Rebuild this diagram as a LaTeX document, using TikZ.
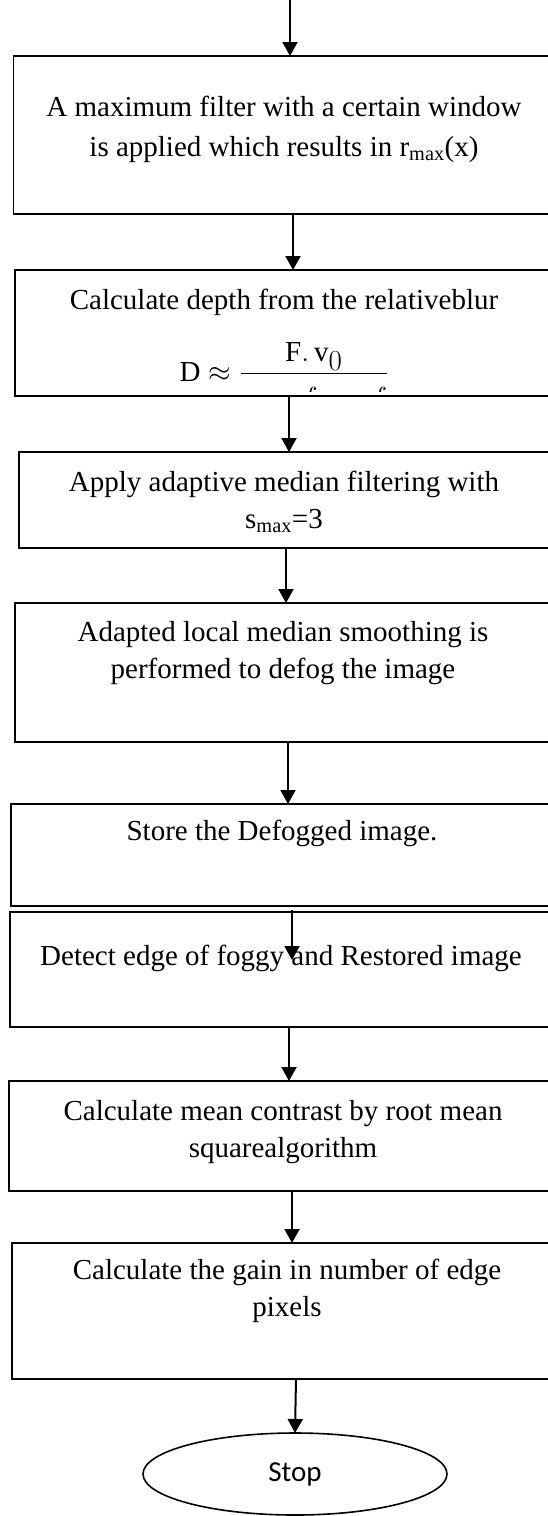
\RequirePackage{fix-cm}
\documentclass[tikz,border=0pt]{standalone}
\usepackage{amsmath}
\usepackage{fontspec}
\setmainfont{Liberation Serif}
\newfontfamily\stopfont{Carlito}
\usetikzlibrary{arrows.meta,shapes.geometric}

\begin{document}
\begin{tikzpicture}[x=1pt,y=-1pt,
  box/.style={draw,line width=1.6pt,anchor=north west,inner sep=0pt,outer sep=0pt},
  txt/.style={align=center,inner sep=0pt,font=\fontsize{29}{37}\selectfont},
  arr/.style={line width=2pt,-{Triangle[length=14pt,width=15pt]}},
  term/.style={draw,ellipse,line width=1.6pt,inner sep=0pt,outer sep=0pt,
    minimum width=304pt,minimum height=82pt,font=\stopfont\fontsize{29}{34}\selectfont}
  ]
\useasboundingbox (0,0) rectangle (548,1516);
\clip (0,0) rectangle (548,1516);

% process boxes (their right sides run past the page edge)
\node[box,minimum width=586.4pt,minimum height=158pt] (b1) at (13.6,56) {};
\node[box,minimum width=585.3pt,minimum height=126pt] (b2) at (14.7,270) {};
\node[box,minimum width=581pt,minimum height=96pt]    (b3) at (19,452) {};
\node[box,minimum width=585.3pt,minimum height=139pt] (b4) at (14.7,603) {};
\node[box,minimum width=588.8pt,minimum height=102pt] (b5) at (11.2,804) {};
\node[box,minimum width=590.2pt,minimum height=115pt] (b6) at (9.8,912) {};
\node[box,minimum width=591.3pt,minimum height=110pt] (b7) at (8.7,1081) {};
\node[box,minimum width=587.8pt,minimum height=136pt] (b8) at (12.2,1243) {};
\node[term] (stop) at (295,1474) {Stop};

% box texts
\node[txt,font=\fontsize{29}{40}\selectfont] (t1) at (284,129.5) {A maximum filter with a certain window\\is applied which results in r\textsubscript{max}(x)};
\node[txt] (t2) at (284,302) {Calculate depth from the relativeblur};
\begin{scope}
  % the denominator is cut off by the box
  \clip (0,330) rectangle (548,391);
  \node[txt,anchor=base] (eq) at (284,381)
    {$\mathrm{D} \approx \dfrac{\mathrm{F}.\,\mathrm{v}_{\textstyle 0}}{\lower7pt\hbox{$\displaystyle\mathrm{v}_0 - f - \sigma f$}}$};
\end{scope}
\node[txt] (t3) at (284,502) {Apply adaptive median filtering with\\s\textsubscript{max}=3};
\node[txt] (t4) at (283,653) {Adapted local median smoothing is\\performed to defog the image};
\node[txt] (t5) at (282,833) {Store the Defogged image.};
\node[txt] (t6) at (281,958) {Detect edge of foggy and Restored image};
\node[txt] (t7) at (283,1132) {Calculate mean contrast by root mean\\squarealgorithm};
\node[txt] (t8) at (287,1291) {Calculate the gain in number of edge\\pixels};

% connector positions
\coordinate (in) at (290,0);
\coordinate (x1) at (293,0);
\coordinate (x2) at (289,0);
\coordinate (x3) at (286,0);
\coordinate (x4) at (288,0);
\coordinate (x5) at (292,910);
\coordinate (e5) at (292,960);
\coordinate (x6) at (289,0);
\coordinate (x7) at (292,0);
\coordinate (x8) at (296,0);

% connectors
\draw[arr] (in) -- (b1.north -| in);
\draw[arr] (b1.south -| x1) -- (b2.north -| x1);
\draw[arr] (b2.south -| x2) -- (b3.north -| x2);
\draw[arr] (b3.south -| x3) -- (b4.north -| x3);
\draw[arr] (b4.south -| x4) -- (b5.north -| x4);
\draw[arr] (x5) -- (e5);
\draw[arr] (b6.south -| x6) -- (b7.north -| x6);
\draw[arr] (b7.south -| x7) -- (b8.north -| x7);
\draw[arr] (b8.south -| x8) -- (stop.north);
\end{tikzpicture}
\end{document}
